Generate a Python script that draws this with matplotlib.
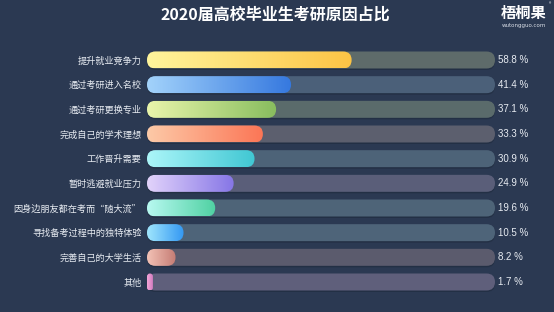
import numpy as np
import matplotlib
matplotlib.use("Agg")
from matplotlib import pyplot as plt
from matplotlib.patches import FancyBboxPatch
from matplotlib.colors import LinearSegmentedColormap

plt.rcParams['font.family'] = ['Noto Sans CJK SC', 'DejaVu Sans']

reasons = ['提升就业竞争力', '通过考研进入名校', '通过考研更换专业', '完成自己的学术理想',
           '工作晋升需要', '暂时逃避就业压力', '因身边朋友都在考而“随大流”',
           '寻找备考过程中的独特体验', '完善自己的大学生活', '其他']
shares = [58.8, 41.4, 37.1, 33.3, 30.9, 24.9, 19.6, 10.5, 8.2, 1.7]

grad_colors = [('#fff59c', '#fcc445'), ('#a3d3fb', '#3578df'), ('#e9f5ab', '#88bd5e'),
               ('#fdcaa8', '#fb7656'), ('#acf6f9', '#40c7d3'), ('#e2d3fb', '#8676e6'),
               ('#b8f9f1', '#4fd1a2'), ('#a0e6fd', '#3398f3'), ('#f3c2b6', '#c57c74'),
               ('#f5a6d8', '#d27cc0')]
track_colors = ['#5e6b6a', '#4b6079', '#5a6b6b', '#5c5f6e', '#4d6378',
                '#5a5e79', '#4e6478', '#4e6479', '#5b5b6d', '#5f5f7b']

bg = '#2b3952'
W, H = 554, 312
fig = plt.figure(figsize=(W / 100, H / 100), dpi=100, facecolor=bg)

ax_l, ax_r = 147, 495
row_top, row_bot = 60, 282
step = (row_bot - row_top) / (len(reasons) - 1)
ax_t = row_top - step / 2
ax_b = row_bot + step / 2
ax = fig.add_axes([ax_l / W, 1 - ax_b / H, (ax_r - ax_l) / W, (ax_b - ax_t) / H])
ax.set_facecolor(bg)
for s in ax.spines.values():
    s.set_visible(False)
ax.set_xticks([])
ax.set_yticks(range(len(reasons)))
ax.set_yticklabels(reasons, color='#e8ecf2', fontsize=6.6)
ax.tick_params(axis='y', length=0, pad=4)

px_x = (ax_r - ax_l) / 100.0
px_y = step
bar_h_px = 17
bh = bar_h_px / px_y
rad_px = bar_h_px / 2
aspect = (rad_px / px_y) / (rad_px / px_x)


def pill(x0, w, y, **kw):
    r = min(rad_px / px_x, w / 2)
    return FancyBboxPatch((x0, y - bh / 2), w, bh,
                          boxstyle='round,pad=0,rounding_size=%f' % r,
                          mutation_aspect=aspect, **kw)


grad = np.linspace(0, 1, 256).reshape(1, -1)
for i, (v, (c0, c1), tc) in enumerate(zip(shares, grad_colors, track_colors)):
    # soft shadow under each track
    ax.add_patch(pill(0, 100, i + 1.5 / px_y, facecolor='#1f2a3d', edgecolor='none',
                      alpha=0.6, zorder=1))
    ax.add_patch(pill(0, 100, i, facecolor=tc, edgecolor='none', zorder=2))
    p = pill(0, v, i, facecolor='none', edgecolor='none', zorder=3)
    ax.add_patch(p)
    cmap = LinearSegmentedColormap.from_list('g%d' % i, [c0, c1])
    im = ax.imshow(grad, cmap=cmap, aspect='auto', extent=[0, v, i + bh / 2, i - bh / 2],
                   zorder=3, interpolation='bilinear')
    im.set_clip_path(p)
    ax.text(100.8, i, '%.1f %%' % v, va='center', ha='left', color='#e8ecf2',
            fontsize=7, family=['Liberation Sans'])

ax.set_xlim(0, 100)
ax.set_ylim(len(reasons) - 0.5, -0.5)

fig.text(0.497, 1 - 15 / H, '2020届高校毕业生考研原因占比', ha='center', va='center',
         color='white', fontsize=11.5, fontweight='bold')
fig.text(1 - 30 / W, 1 - 13 / H, '梧桐果', ha='center', va='center',
         color='white', fontsize=11, fontweight='bold')
fig.text(1 - 4 / W, 1 - 5 / H, '®', ha='center', va='center', color='white', fontsize=3.5)
fig.text(1 - 30 / W, 1 - 25 / H, 'wutongguo.com', ha='center', va='center',
         color='#d8dde6', fontsize=4, family=['DejaVu Sans'])

fig.savefig('out.png', dpi=100, facecolor=bg)
